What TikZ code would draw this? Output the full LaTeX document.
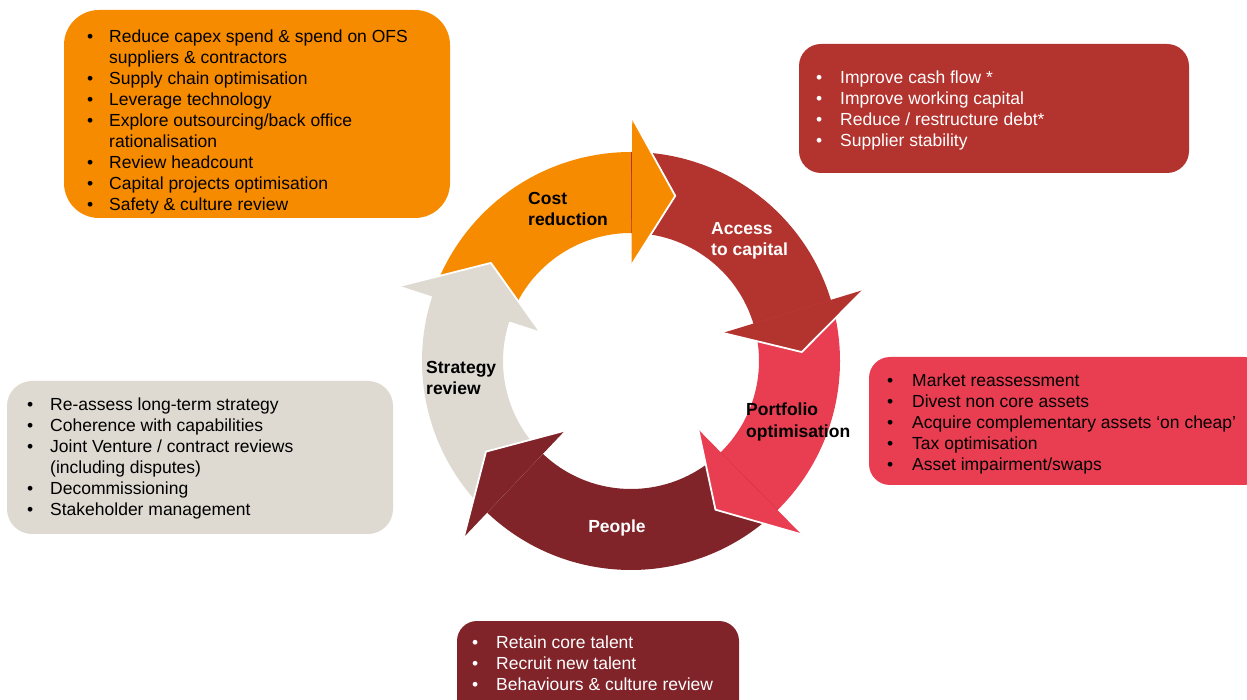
\documentclass[tikz,border=0pt]{standalone}
\usepackage{fontspec}
\setmainfont{Liberation Sans}
\definecolor{cOrange}{RGB}{247,139,0}
\definecolor{cAccess}{RGB}{179,51,46}
\definecolor{cPort}{RGB}{233,61,81}
\definecolor{cPeople}{RGB}{128,36,42}
\definecolor{cStrat}{RGB}{222,218,210}
\tikzset{
  box/.style={draw=none, inner sep=0pt, outer sep=0pt},
  listtxt/.style={anchor=base west, inner sep=0pt, font=\fontsize{17.5}{21}\selectfont},
  lbl/.style={anchor=base west, inner sep=0pt, font=\bfseries\fontsize{17.5}{21}\selectfont},
  sepline/.style={draw=white, line width=1.8pt, line join=round},
}
\newcommand\ringbody[3]{%
  \fill[#1] (#2:209) arc[start angle=#2, end angle=#3, radius=209]
    -- (#3:128) arc[start angle=#3, end angle=#2, radius=128] -- cycle;}
\newcommand\ringhead[3]{%
  \fill[#1] (#2:243) -- (#3:171) -- (#2:96) -- cycle;
  \draw[sepline] (#2:243) -- (#3:171) -- (#2:96);}
\newcommand\bul[1]{\makebox[#1][l]{•}}
\begin{document}
\begin{tikzpicture}[x=1pt,y=1pt]
\useasboundingbox (0,0) rectangle (1247,699);
\clip (0,0) rectangle (1247,699);

% boxes
\node[box, fill=cOrange, minimum width=386pt, minimum height=208pt, rounded corners=35pt] (costbox) at (257,585) {};
\node[box, fill=cAccess, minimum width=390pt, minimum height=129pt, rounded corners=22pt] (accbox) at (994,590.5) {};
\node[box, fill=cPort, minimum width=396pt, minimum height=128pt, rounded corners=21pt] (portbox) at (1067,278) {};
\node[box, fill=cStrat, minimum width=386pt, minimum height=153pt, rounded corners=25pt] (stratbox) at (200,241.5) {};
\node[box, fill=cPeople, minimum width=282pt, minimum height=99pt, rounded corners=20pt] (peoplebox) at (598,28.5) {};

% cost reduction list
\node[listtxt] (c1) at (87,656) {\bul{22pt}Reduce capex spend \& spend on OFS};
\node[listtxt] (c2) at (109,635) {suppliers \& contractors};
\node[listtxt] (c3) at (87,614) {\bul{22pt}Supply chain optimisation};
\node[listtxt] (c4) at (87,593) {\bul{22pt}Leverage technology};
\node[listtxt] (c5) at (87,572) {\bul{22pt}Explore outsourcing/back office};
\node[listtxt] (c6) at (109,551) {rationalisation};
\node[listtxt] (c7) at (87,530) {\bul{22pt}Review headcount};
\node[listtxt] (c8) at (87,509) {\bul{22pt}Capital projects optimisation};
\node[listtxt] (c9) at (87,488) {\bul{22pt}Safety \& culture review};

% access list
\node[listtxt, text=white] (a1) at (816,615) {\bul{24pt}Improve cash flow *};
\node[listtxt, text=white] (a2) at (816,594) {\bul{24pt}Improve working capital};
\node[listtxt, text=white] (a3) at (816,573) {\bul{24pt}Reduce / restructure debt*};
\node[listtxt, text=white] (a4) at (816,552) {\bul{24pt}Supplier stability};

% portfolio list
\node[listtxt] (p1) at (887,312) {\bul{25pt}Market reassessment};
\node[listtxt] (p2) at (887,291) {\bul{25pt}Divest non core assets};
\node[listtxt] (p3) at (887,270) {\bul{25pt}Acquire complementary assets ‘on cheap’};
\node[listtxt] (p4) at (887,249) {\bul{25pt}Tax optimisation};
\node[listtxt] (p5) at (887,228) {\bul{25pt}Asset impairment/swaps};

% strategy list
\node[listtxt] (s1) at (27,288) {\bul{23pt}Re-assess long-term strategy};
\node[listtxt] (s2) at (27,267) {\bul{23pt}Coherence with capabilities};
\node[listtxt] (s3) at (27,246) {\bul{23pt}Joint Venture / contract reviews};
\node[listtxt] (s4) at (50,225) {(including disputes)};
\node[listtxt] (s5) at (27,204) {\bul{23pt}Decommissioning};
\node[listtxt] (s6) at (27,183) {\bul{23pt}Stakeholder management};

% people list
\node[listtxt, text=white] (e1) at (472,51) {\bul{24pt}Retain core talent};
\node[listtxt, text=white] (e2) at (472,30) {\bul{24pt}Recruit new talent};
\node[listtxt, text=white] (e3) at (472,9) {\bul{24pt}Behaviours \& culture review};

% cycle
\begin{scope}[shift={(631,338)}]
  \ringbody{cOrange}{162}{89}
  \ringbody{cAccess}{90}{16}
  \ringbody{cPort}{17}{-46.5}
  \ringbody{cPeople}{-45.5}{-134.5}
  \ringbody{cStrat}{-133.5}{-199}
  \ringhead{cOrange}{89.7}{75}
  \ringhead{cAccess}{17}{3}
  \ringhead{cPort}{-45.5}{-60.4}
  \ringhead{cPeople}{-133.5}{-148}
  \ringhead{cStrat}{162}{145}
\end{scope}

% labels
\node[lbl] (l1a) at (528,494) {Cost};
\node[lbl] (l1b) at (528,473) {reduction};
\node[lbl, text=white] (l2a) at (711,464) {Access};
\node[lbl, text=white] (l2b) at (711,443) {to capital};
\node[lbl] (l3a) at (746,283) {Portfolio};
\node[lbl] (l3b) at (746,261.5) {optimisation};
\node[lbl, text=white, anchor=base] (l4) at (617,166) {People};
\node[lbl] (l5a) at (426,325) {Strategy};
\node[lbl] (l5b) at (426,304) {review};
\end{tikzpicture}
\end{document}
